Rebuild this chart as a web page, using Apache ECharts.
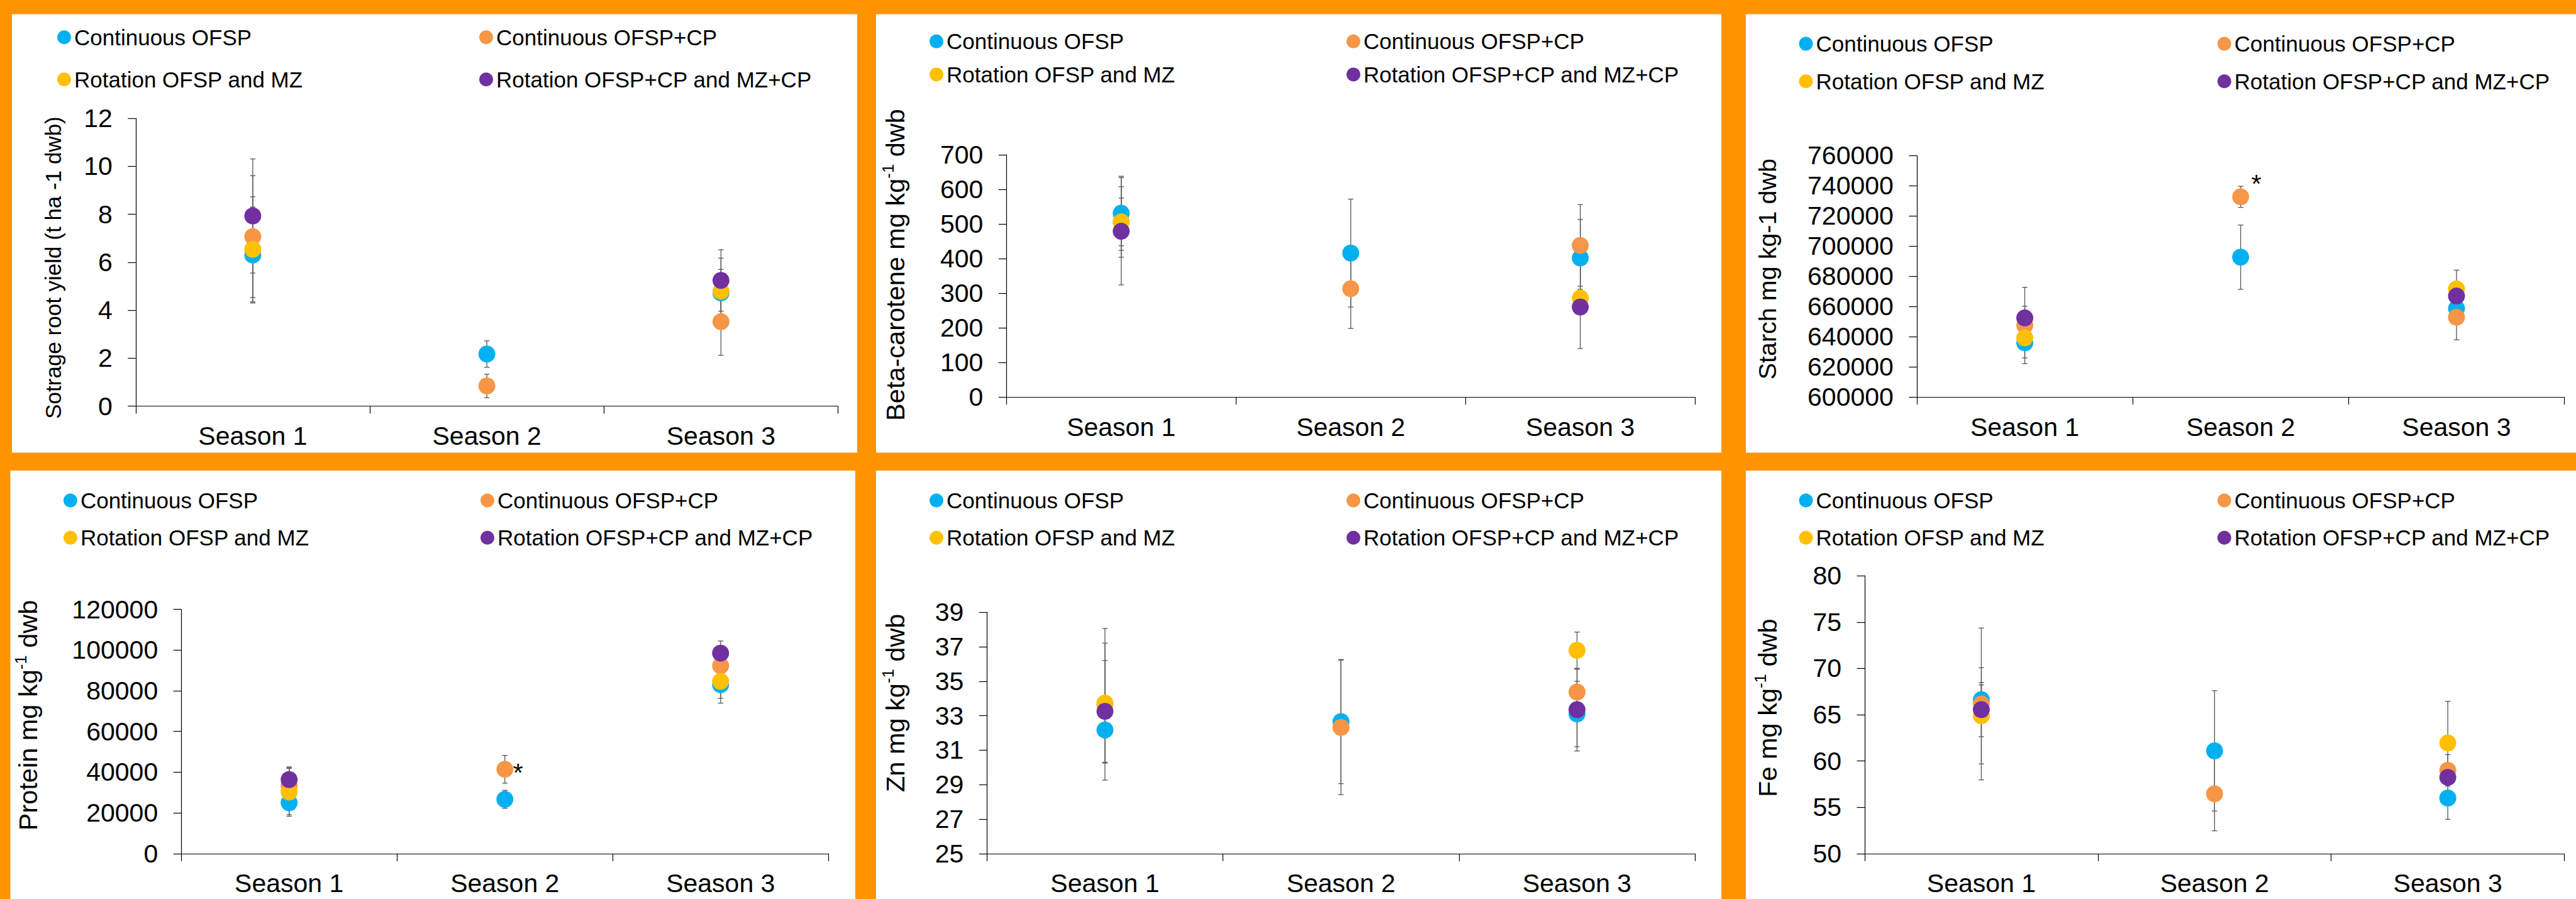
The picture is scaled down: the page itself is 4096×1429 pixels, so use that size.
<!DOCTYPE html>
<html><head><meta charset="utf-8">
<script src="https://cdn.jsdelivr.net/npm/echarts@6/dist/echarts.min.js"></script>
<style>html,body{margin:0;padding:0;background:#FF9400;}#c{width:4096px;height:1429px;}</style>
</head><body><div id="c"></div>
<script>
// ---------- data ----------
const seasons = ['Season 1', 'Season 2', 'Season 3'];
const seriesNames = ['Continuous OFSP', 'Continuous OFSP+CP', 'Rotation OFSP and MZ', 'Rotation OFSP+CP and MZ+CP'];

// Storage root yield (t/ha dwb): rows = series, cols = seasons
const yieldMeans = [[6.30, 2.17, 4.72], [7.07, 0.84, 3.52], [6.54, null, 4.79], [7.93, null, 5.24]];
const yieldErrs  = [[2.00, 0.55, 0.98], [2.54, 0.49, 1.40], [2.19, null, 1.38], [2.38, null, 1.28]];
const yieldTicks = [0, 2, 4, 6, 8, 10, 12];

const betaMeans = [[531, 416, 402], [506, 313, 438], [506, null, 286], [479, null, 260]];
const betaErrs  = [[107, 156, 111], [69, 115, 118], [102, null, 25], [155, null, 120]];
const betaTicks = [0, 100, 200, 300, 400, 500, 600, 700];

const starchMeans = [[635900, 692700, 658600], [647400, 732700, 652900], [639200, null, 671600], [652400, null, 666900]];
const starchErrs  = [[10000, 21300, 6000], [25300, 7000, 15000], [6000, null, 5100], [7800, null, 17200]];
const starchTicks = [600000, 620000, 640000, 660000, 680000, 700000, 720000, 740000, 760000];

const proteinMeans = [[24970, 26640, 82960], [33300, 41400, 92250], [30240, null, 84620], [36350, null, 98500]];
const proteinErrs  = [[5830, 4400, 6660], [9300, 6800, 5000], [11900, null, 10700], [5500, null, 5960]];
const proteinTicks = [0, 20000, 40000, 60000, 80000, 100000, 120000];

const znMeans = [[32.17, 32.66, 33.10], [33.66, 32.32, 34.37], [33.73, null, 36.79], [33.25, null, 33.35]];
const znErrs  = [[0.45, 3.60, 1.90], [4.40, 3.90, 1.32], [3.48, null, 1.06], [2.95, null, 2.40]];
const znTicks = [25, 27, 29, 31, 33, 35, 37, 39];

const feMeans = [[66.62, 61.10, 56.00], [66.16, 56.46, 58.99], [64.88, null, 61.95], [65.55, null, 58.23]];
const feErrs  = [[1.60, 6.50, 2.30], [8.20, 4.00, 1.70], [5.20, null, 4.50], [2.93, null, 0.50]];
const feTicks = [50, 55, 60, 65, 70, 75, 80];

// significance marks: [seriesIndex, seasonIndex]
const starchStars = [[1, 1]];
const proteinStars = [[1, 1]];

// axis titles: [main, superscript, tail]
const yieldTitle = ['Sotrage root yield (t ha -1 dwb)', '', ''];
const betaTitle = ['Beta-carotene mg kg', '-1', ' dwb'];
const starchTitle = ['Starch mg kg-1 dwb', '', ''];
const proteinTitle = ['Protein mg kg', '-1', ' dwb'];
const znTitle = ['Zn mg kg', '-1', ' dwb'];
const feTitle = ['Fe mg kg', '-1', ' dwb'];

// ---------- layout / style ----------
const F = '"Liberation Sans", Arial, Helvetica, sans-serif';
const COLORS = ['#00B0F0', '#F79646', '#FFC000', '#7030A0'];

const panels = [
  {means: yieldMeans, errs: yieldErrs, ticks: yieldTicks, title: yieldTitle, stars: [],
   rect: [19, 22.4, 1344, 697], grid: [215.8, 188.2, 1116.7, 457.3], leg: [91, 762, 42.2, 33.1],
   tpos: [84.2, 425.5, 35], starPos: null},
  {means: betaMeans, errs: betaErrs, ticks: betaTicks, title: betaTitle, stars: [],
   rect: [1393, 22.4, 1344, 697], grid: [1600.3, 246.1, 1094.9, 384.9], leg: [1478, 2141, 48.8, 18.6],
   tpos: [1423.3, 421, 41.5], starPos: null},
  {means: starchMeans, errs: starchErrs, ticks: starchTicks, title: starchTitle, stars: starchStars,
   rect: [2776, 22.4, 1320, 697], grid: [3047.9, 247.4, 1029.7, 383.6], leg: [2860.5, 3525.8, 52.6, 25.7],
   tpos: [2810.3, 427.7, 39.5], starPos: [38.5, -7.2]},
  {means: proteinMeans, errs: proteinErrs, ticks: proteinTicks, title: proteinTitle, stars: proteinStars,
   rect: [16.5, 748.1, 1343.5, 681], grid: [288.2, 968.6, 1029.1, 388.2], leg: [100.9, 764, 778.5, 25.2],
   tpos: [44.1, 1137, 41.5], starPos: [34.5, 18.9]},
  {means: znMeans, errs: znErrs, ticks: znTicks, title: znTitle, stars: [],
   rect: [1393, 748.1, 1344, 681], grid: [1569.3, 973.2, 1125.9, 383.6], leg: [1478, 2141, 778.5, 25.2],
   tpos: [1423.3, 1117.3, 41.5], starPos: null},
  {means: feMeans, errs: feErrs, ticks: feTicks, title: feTitle, stars: [],
   rect: [2776, 748.1, 1320, 681], grid: [2965, 915.3, 1112.6, 441.5], leg: [2860.5, 3525.8, 778.5, 25.2],
   tpos: [2810.3, 1125.2, 41.5], starPos: null}
];

function errRender(params, api) {
  const c = api.value(0), lo = api.value(1), hi = api.value(2);
  const a = api.coord([c, hi]), b = api.coord([c, lo]);
  const w = 4.2;
  const st = {stroke: '#606060', lineWidth: 1.4};
  return {type: 'group', children: [
    {type: 'line', shape: {x1: a[0], y1: a[1], x2: b[0], y2: b[1]}, style: st},
    {type: 'line', shape: {x1: a[0] - w, y1: a[1], x2: a[0] + w, y2: a[1]}, style: st},
    {type: 'line', shape: {x1: b[0] - w, y1: b[1], x2: b[0] + w, y2: b[1]}, style: st}
  ]};
}

const option = {
  backgroundColor: '#FF9400',
  animation: false,
  textStyle: {fontFamily: F},
  graphic: {elements: []},
  grid: [], xAxis: [], yAxis: [], legend: [], series: []
};

panels.forEach((p, i) => {
  option.graphic.elements.push({type: 'rect', z: -10, silent: true,
    shape: {x: p.rect[0], y: p.rect[1], width: p.rect[2], height: p.rect[3]}, style: {fill: '#ffffff'}});
  const fs = p.tpos[2];
  const txt = p.title[1] ? '{t|' + p.title[0] + '}{s|' + p.title[1] + '}{t|' + p.title[2] + '}' : '{t|' + p.title[0] + '}';
  option.graphic.elements.push({type: 'text', z: 10, silent: true, x: p.tpos[0], y: p.tpos[1], rotation: Math.PI / 2,
    style: {text: txt, align: 'center', verticalAlign: 'middle', fill: '#000',
      rich: {t: {fontSize: fs, fontFamily: F, fill: '#000', lineHeight: fs * 1.15},
             s: {fontSize: fs * 0.62, fontFamily: F, fill: '#000', verticalAlign: 'top', lineHeight: fs * 1.15}}}});

  option.grid.push({left: p.grid[0], top: p.grid[1], width: p.grid[2], height: p.grid[3], containLabel: false});
  option.xAxis.push({type: 'category', gridIndex: i, data: seasons, boundaryGap: true,
    axisLine: {show: true, lineStyle: {color: '#000', width: 1.2}},
    axisTick: {show: true, length: 12, inside: false, alignWithLabel: false, lineStyle: {color: '#000', width: 1.2}},
    axisLabel: {interval: 0, fontSize: 41, color: '#000', margin: 27, fontFamily: F},
    splitLine: {show: false}});
  const t = p.ticks, step = t[1] - t[0];
  const ya = {type: 'value', gridIndex: i, min: t[0], max: t[t.length - 1],
    axisLine: {show: true, lineStyle: {color: '#000', width: 1.2}},
    axisTick: {show: true, length: 12.5, inside: false, customValues: t, lineStyle: {color: '#000', width: 1.2}},
    axisLabel: {fontSize: 41, color: '#000', margin: 37, fontFamily: F, customValues: t, formatter: v => String(v)},
    splitLine: {show: false}};
  if (t[0] % step === 0) ya.interval = step;
  option.yAxis.push(ya);

  const legBase = {orient: 'vertical', padding: 0, itemGap: p.leg[3] - 1, itemWidth: 22, itemHeight: 22, icon: 'circle',
    selectedMode: false, top: p.leg[2] - 0.5, textStyle: {fontSize: 35, lineHeight: 35, color: '#000', fontFamily: F}};
  option.legend.push(Object.assign({}, legBase, {left: p.leg[0], data: [seriesNames[0], seriesNames[2]]}));
  option.legend.push(Object.assign({}, legBase, {left: p.leg[1], data: [seriesNames[1], seriesNames[3]]}));

  const errData = [];
  p.means.forEach((arr, s) => arr.forEach((v, c) => {
    const e = p.errs[s][c];
    if (v != null && e != null) errData.push([c, v - e, v + e]);
  }));
  option.series.push({type: 'custom', xAxisIndex: i, yAxisIndex: i, z: 1, silent: true,
    renderItem: errRender, encode: {x: 0, y: [1, 2]}, data: errData});

  p.means.forEach((arr, s) => {
    option.series.push({type: 'scatter', name: seriesNames[s], xAxisIndex: i, yAxisIndex: i, z: 2,
      symbol: 'circle', symbolSize: 27, itemStyle: {color: COLORS[s], opacity: 1},
      emphasis: {disabled: true},
      data: arr.map((v, c) => {
        if (v == null) return '-';
        const star = p.stars.some(m => m[0] === s && m[1] === c);
        if (!star) return v;
        return {value: v, label: {show: true, formatter: '*', position: p.starPos, fontSize: 41,
          color: '#000', fontFamily: F, align: 'center', verticalAlign: 'middle'}};
      })});
  });
});

const chart = echarts.init(document.getElementById('c'), null, {renderer: 'svg', width: 4096, height: 1429});
chart.setOption(option);
</script></body></html>
